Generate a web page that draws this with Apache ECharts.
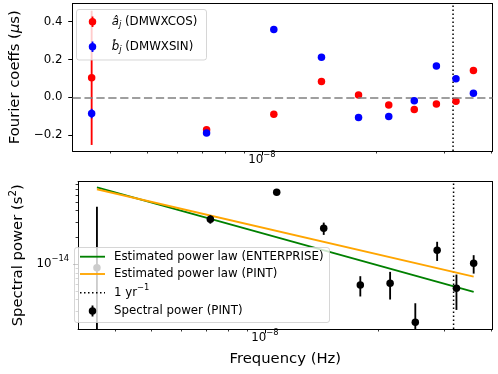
<!DOCTYPE html>
<html><head><meta charset="utf-8">
<script src="https://cdn.jsdelivr.net/npm/echarts@6/dist/echarts.min.js"></script>
<style>html,body{margin:0;padding:0;background:#fff}#c{width:498px;height:374px}</style>
</head><body><div id="c"></div>
<script>
// ---- data ----
const freqs = [3.583e-9, 7.166e-9, 1.075e-8, 1.433e-8, 1.792e-8, 2.150e-8, 2.508e-8, 2.866e-8, 3.225e-8, 3.583e-8];
const aCos = [0.103, -0.172, -0.089, 0.084, 0.012, -0.041, -0.065, -0.035, -0.021, 0.142];
const aCosErr = [0.355, 0.012, 0.006, 0.008, 0.010, 0.006, 0.006, 0.006, 0.008, 0.008];
const bSin = [-0.086, -0.189, 0.358, 0.212, -0.107, -0.102, -0.018, 0.166, 0.098, 0.021];
const bSinErr = [0.025, 0.012, 0.006, 0.008, 0.008, 0.006, 0.006, 0.006, 0.010, 0.008];
const power = [9.16e-15, 3.21e-14, 6.44e-14, 2.54e-14, 5.85e-15, 6.12e-15, 2.23e-15, 1.44e-14, 5.37e-15, 1.026e-14];
const powerErr = [3.52e-14, 3.5e-15, 3.0e-15, 4.0e-15, 1.5e-15, 2.1e-15, 1.42e-15, 3.5e-15, 2.3e-15, 2.4e-15];
const lawFreqs = [3.583e-9, 3.583e-8];
const lawEnterprise = [7.33e-14, 4.89e-15];
const lawPint = [6.97e-14, 7.26e-15];
const yearFreq = 3.1688e-8;
const topYTicks = [-0.2, 0, 0.2, 0.4];
const xMajorTicks = [1e-8];
const xMinorTicks = [4e-9, 5e-9, 6e-9, 7e-9, 8e-9, 9e-9, 2e-8, 3e-8, 4e-8];
const botYMajorTicks = [1e-14];
const botYMinorTicks = [3e-15, 4e-15, 5e-15, 6e-15, 7e-15, 8e-15, 9e-15, 2e-14, 3e-14, 4e-14, 5e-14, 6e-14, 7e-14, 8e-14];

const FONT = 'DejaVu Sans';
const FS = 11.8;
const xMin = 3.193e-9, xMax = 4.02e-8;
const topYMin = -0.284, topYMax = 0.496;
const botYMin = 1.875e-15, botYMax = 8.517e-14;

const supRich = {
  b: {fontFamily: FONT, fontSize: FS, color: '#000', lineHeight: 15},
  s: {fontFamily: FONT, fontSize: 8.4, color: '#000', lineHeight: 10, padding: [0, 0, 10, 0]}
};

function makeErr(color, isLog) {
  return function (params, api) {
    const x = api.value(0), y = api.value(1), e = api.value(2);
    const cs = params.coordSys;
    const yT = cs.y, yB = cs.y + cs.height;
    const p = api.coord([x, y]);
    let t = api.coord([x, y + e])[1];
    let b = (!isLog || y - e > 0) ? api.coord([x, y - e])[1] : yB;
    t = Math.max(yT, Math.min(yB, t));
    b = Math.max(yT, Math.min(yB, b));
    return {type: 'line', shape: {x1: p[0], y1: t, x2: p[0], y2: b}, style: {stroke: color, lineWidth: 1.85}};
  };
}

const frameLine = {show: true, onZero: false, lineStyle: {color: '#000', width: 1}};
function xAxes(grid, withName) {
  return [
    {type: 'log', logBase: 10, gridIndex: grid, min: xMin, max: xMax, position: 'bottom',
     axisLine: frameLine, splitLine: {show: false},
     axisTick: {show: true, length: 4.3, customValues: xMajorTicks, lineStyle: {color: '#000', width: 1}},
     axisLabel: {show: true, customValues: xMajorTicks, margin: 1, formatter: () => '{b|10}{s|−8}', rich: supRich},
     name: withName ? 'Frequency (Hz)' : '', nameLocation: 'middle', nameGap: 23,
     nameTextStyle: {fontFamily: FONT, fontSize: 14.8, color: '#000'}},
    {type: 'log', logBase: 10, gridIndex: grid, min: xMin, max: xMax, position: 'bottom',
     axisLine: {show: false, onZero: false}, splitLine: {show: false},
     axisTick: {show: true, length: 2.5, customValues: xMinorTicks, lineStyle: {color: '#000', width: 0.8}},
     axisLabel: {show: false}},
    {type: 'value', gridIndex: grid, min: 0, max: 1, position: 'top',
     axisLine: frameLine, axisTick: {show: false}, axisLabel: {show: false}, splitLine: {show: false}}
  ];
}

const option = {
  animation: false,
  backgroundColor: '#fff',
  grid: [
    {left: 69.5, top: 3.5, width: 423, height: 147.5, show: false},
    {left: 69.5, top: 181.5, width: 423, height: 147.5, show: false}
  ],
  xAxis: [...xAxes(0, false), ...xAxes(1, true)],
  yAxis: [
    {type: 'value', gridIndex: 0, min: topYMin, max: topYMax, position: 'left',
     axisLine: frameLine, splitLine: {show: false},
     axisTick: {show: true, length: 4.3, customValues: topYTicks, lineStyle: {color: '#000', width: 1}},
     axisLabel: {customValues: topYTicks, margin: 10, fontFamily: FONT, fontSize: FS, color: '#000',
       formatter: v => (v < 0 ? '−' : '') + Math.abs(v).toFixed(1)},
     name: 'Fourier coeffs ({i|μ}s)', nameLocation: 'middle', nameGap: 40, nameRotate: 90,
     nameTextStyle: {fontFamily: FONT, fontSize: 14.8, color: '#000',
       rich: {i: {fontFamily: FONT, fontSize: 14.8, fontStyle: 'italic', color: '#000'}}}},
    {type: 'value', gridIndex: 0, min: 0, max: 1, position: 'right',
     axisLine: frameLine, axisTick: {show: false}, axisLabel: {show: false}, splitLine: {show: false}},
    {type: 'log', logBase: 10, gridIndex: 1, min: botYMin, max: botYMax, position: 'left',
     axisLine: frameLine, splitLine: {show: false},
     axisTick: {show: true, length: 4.3, customValues: botYMajorTicks, lineStyle: {color: '#000', width: 1}},
     axisLabel: {customValues: botYMajorTicks, margin: 9, formatter: () => '{b|10}{s|−14}', rich: supRich},
     name: 'Spectral power (s{s|2})', nameLocation: 'middle', nameGap: 47, nameRotate: 90,
     nameTextStyle: {fontFamily: FONT, fontSize: 14.8, color: '#000',
       rich: {s: {fontFamily: FONT, fontSize: 10.4, color: '#000', padding: [0, 0, 10, 0]}}}},
    {type: 'log', logBase: 10, gridIndex: 1, min: botYMin, max: botYMax, position: 'left',
     axisLine: {show: false}, splitLine: {show: false},
     axisTick: {show: true, length: 2.5, customValues: botYMinorTicks, lineStyle: {color: '#000', width: 0.8}},
     axisLabel: {show: false}},
    {type: 'value', gridIndex: 1, min: 0, max: 1, position: 'right',
     axisLine: frameLine, axisTick: {show: false}, axisLabel: {show: false}, splitLine: {show: false}}
  ],
  series: [
    // top panel
    {type: 'line', xAxisIndex: 0, yAxisIndex: 0, z: 1, silent: true, symbol: 'none',
     lineStyle: {color: '#000', type: [1.5, 2.5], width: 1.5},
     data: [[yearFreq, topYMin], [yearFreq, topYMax]],
     markLine: {silent: true, symbol: 'none', label: {show: false}, animation: false,
       data: [{yAxis: 0, lineStyle: {color: '#808080', type: [8.3, 3.6], width: 1.5}}]}},
    {type: 'custom', xAxisIndex: 0, yAxisIndex: 0, z: 2, renderItem: makeErr('#ff0000', false),
     encode: {x: 0, y: 1}, data: freqs.map((f, i) => [f, aCos[i], aCosErr[i]])},
    {type: 'scatter', xAxisIndex: 0, yAxisIndex: 0, z: 3, symbolSize: 7.5, itemStyle: {color: '#ff0000', opacity: 1},
     data: freqs.map((f, i) => [f, aCos[i]])},
    {type: 'custom', xAxisIndex: 0, yAxisIndex: 0, z: 4, renderItem: makeErr('#0000ff', false),
     encode: {x: 0, y: 1}, data: freqs.map((f, i) => [f, bSin[i], bSinErr[i]])},
    {type: 'scatter', xAxisIndex: 0, yAxisIndex: 0, z: 5, symbolSize: 7.5, itemStyle: {color: '#0000ff', opacity: 1},
     data: freqs.map((f, i) => [f, bSin[i]])},
    // bottom panel
    {type: 'line', xAxisIndex: 3, yAxisIndex: 2, z: 1, silent: true, symbol: 'none',
     lineStyle: {color: '#000', type: [1.5, 2.5], width: 1.5},
     data: [[yearFreq, botYMin], [yearFreq, botYMax]]},
    {type: 'line', xAxisIndex: 3, yAxisIndex: 2, z: 2, symbol: 'none', lineStyle: {color: '#008000', width: 1.85},
     data: lawFreqs.map((f, i) => [f, lawEnterprise[i]])},
    {type: 'line', xAxisIndex: 3, yAxisIndex: 2, z: 2, symbol: 'none', lineStyle: {color: '#ffa500', width: 1.85},
     data: lawFreqs.map((f, i) => [f, lawPint[i]])},
    {type: 'custom', xAxisIndex: 3, yAxisIndex: 2, z: 3, renderItem: makeErr('#000000', true),
     encode: {x: 0, y: 1}, data: freqs.map((f, i) => [f, power[i], powerErr[i]])},
    {type: 'scatter', xAxisIndex: 3, yAxisIndex: 2, z: 4, symbolSize: 7.5, itemStyle: {color: '#000', opacity: 1},
     data: freqs.map((f, i) => [f, power[i]])}
  ],
  graphic: [
    // top legend
    {type: 'rect', z: 100, shape: {x: 76.5, y: 9.5, width: 130, height: 50.5, r: 2.5},
     style: {fill: 'rgba(255,255,255,0.8)', stroke: 'rgba(204,204,204,0.8)', lineWidth: 1}},
    {type: 'line', z: 101, shape: {x1: 92.5, y1: 16.5, x2: 92.5, y2: 27}, style: {stroke: '#ff0000', lineWidth: 1.85}},
    {type: 'circle', z: 101, shape: {cx: 92.5, cy: 21.7, r: 3.75}, style: {fill: '#ff0000'}},
    {type: 'text', z: 101, x: 111.7, y: 21.7, style: {text: '{i|â}{j|j} (DMWXCOS)', verticalAlign: 'middle',
      fontFamily: FONT, fontSize: FS, fill: '#000',
      rich: {i: {fontFamily: FONT, fontSize: FS, fontStyle: 'italic', fill: '#000'},
             j: {fontFamily: FONT, fontSize: 8.4, fontStyle: 'italic', fill: '#000', padding: [7, 0, 0, 0]}}}},
    {type: 'line', z: 101, shape: {x1: 92.5, y1: 41.5, x2: 92.5, y2: 52}, style: {stroke: '#0000ff', lineWidth: 1.85}},
    {type: 'circle', z: 101, shape: {cx: 92.5, cy: 46.7, r: 3.75}, style: {fill: '#0000ff'}},
    {type: 'text', z: 101, x: 111.7, y: 46.7, style: {text: '{i|b\u0302}{j|j} (DMWXSIN)', verticalAlign: 'middle',
      fontFamily: FONT, fontSize: FS, fill: '#000',
      rich: {i: {fontFamily: FONT, fontSize: FS, fontStyle: 'italic', fill: '#000'},
             j: {fontFamily: FONT, fontSize: 8.4, fontStyle: 'italic', fill: '#000', padding: [7, 0, 0, 0]}}}},
    // bottom legend
    {type: 'rect', z: 100, shape: {x: 74.5, y: 247.5, width: 255, height: 75, r: 2.5},
     style: {fill: 'rgba(255,255,255,0.8)', stroke: 'rgba(204,204,204,0.8)', lineWidth: 1}},
    {type: 'line', z: 101, shape: {x1: 80, y1: 256.7, x2: 105, y2: 256.7}, style: {stroke: '#008000', lineWidth: 1.85}},
    {type: 'text', z: 101, x: 114, y: 256.7, style: {text: 'Estimated power law (ENTERPRISE)', verticalAlign: 'middle', fontFamily: FONT, fontSize: FS, fill: '#000'}},
    {type: 'line', z: 101, shape: {x1: 80, y1: 274, x2: 105, y2: 274}, style: {stroke: '#ffa500', lineWidth: 1.85}},
    {type: 'text', z: 101, x: 114, y: 274, style: {text: 'Estimated power law (PINT)', verticalAlign: 'middle', fontFamily: FONT, fontSize: FS, fill: '#000'}},
    {type: 'line', z: 101, shape: {x1: 80, y1: 292.7, x2: 105, y2: 292.7}, style: {stroke: '#000', lineWidth: 1.5, lineDash: [1.5, 2.5]}},
    {type: 'text', z: 101, x: 114, y: 292.7, style: {text: '1 yr{s|−1}', verticalAlign: 'middle', fontFamily: FONT, fontSize: FS, fill: '#000',
      rich: {s: {fontFamily: FONT, fontSize: 8.4, fill: '#000', padding: [0, 0, 9, 0]}}}},
    {type: 'line', z: 101, shape: {x1: 92.5, y1: 305.5, x2: 92.5, y2: 316.5}, style: {stroke: '#000', lineWidth: 1.85}},
    {type: 'circle', z: 101, shape: {cx: 92.5, cy: 311, r: 3.75}, style: {fill: '#000'}},
    {type: 'text', z: 101, x: 114, y: 311, style: {text: 'Spectral power (PINT)', verticalAlign: 'middle', fontFamily: FONT, fontSize: FS, fill: '#000'}}
  ]
};
const chart = echarts.init(document.getElementById('c'));
chart.setOption(option);
</script></body></html>
